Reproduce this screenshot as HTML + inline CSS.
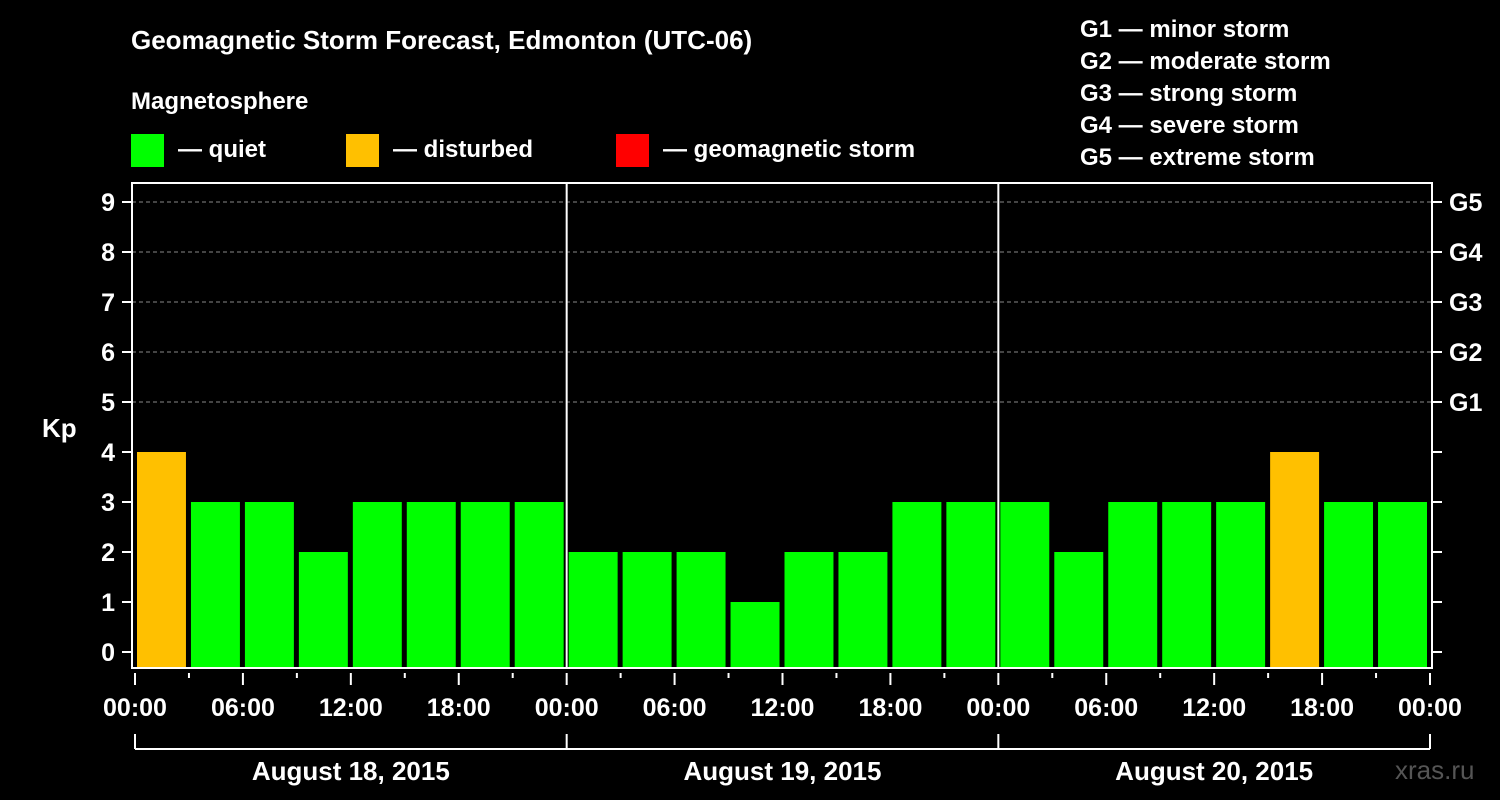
<!DOCTYPE html>
<html><head><meta charset="utf-8"><style>
html,body{margin:0;padding:0;background:#000;width:1500px;height:800px;overflow:hidden}
svg{display:block;font-family:"Liberation Sans",Arial,sans-serif;font-weight:bold}
</style></head><body>
<svg id="c" width="1500" height="800" xmlns="http://www.w3.org/2000/svg">
<text x="131" y="49" fill="#fff" font-size="26">Geomagnetic Storm Forecast, Edmonton (UTC-06)</text>
<text x="131" y="109" fill="#fff" font-size="24">Magnetosphere</text>
<g><rect x="131" y="134" width="33" height="33" fill="#00ff00"/><text x="178" y="157" fill="#fff" font-size="24">— quiet</text></g>
<g><rect x="346" y="134" width="33" height="33" fill="#ffc000"/><text x="393" y="157" fill="#fff" font-size="24">— disturbed</text></g>
<g><rect x="616" y="134" width="33" height="33" fill="#ff0000"/><text x="663" y="157" fill="#fff" font-size="24">— geomagnetic storm</text></g>
<g fill="#fff" font-size="24">
<text x="1080" y="37">G1 — minor storm</text>
<text x="1080" y="69">G2 — moderate storm</text>
<text x="1080" y="101">G3 — strong storm</text>
<text x="1080" y="133">G4 — severe storm</text>
<text x="1080" y="165">G5 — extreme storm</text>
</g>
<text x="42" y="437" fill="#fff" font-size="26">Kp</text>
<text x="1395" y="779" fill="#555" font-size="26" font-weight="normal">xras.ru</text>
<g id="plot"></g>
</svg>
<script>
const kpValues=[4,3,3,2,3,3,3,3, 2,2,2,1,2,2,3,3, 3,2,3,3,3,4,3,3];
const dayLabels=["August 18, 2015","August 19, 2015","August 20, 2015"];
const hourLabels=["00:00","06:00","12:00","18:00"];
const gLabels=["G1","G2","G3","G4","G5"];
const NS="http://www.w3.org/2000/svg";
const g=document.getElementById('plot');
const X0=135,X1=1430,L=132,R=1432,T=183,B=668;
const slot=(X1-X0)/kpValues.length;
const y=v=>652-50*v;
const x=i=>X0+i*slot;
function mk(t,a,txt){const e=document.createElementNS(NS,t);for(const k in a)e.setAttribute(k,a[k]);if(txt!==undefined)e.textContent=txt;g.appendChild(e);return e;}
for(let v=5;v<=9;v++){
 const e=mk('line',{x1:L,x2:R,y1:y(v),y2:y(v),stroke:'#888','stroke-width':1,'stroke-dasharray':'4,3'});
 
 
}
kpValues.forEach((v,i)=>{
 const c=v>=5?'#ff0000':v>=4?'#ffc000':'#00ff00';
 const e=mk('rect',{x:x(i)+2,y:y(v),width:slot-5,height:B-y(v),fill:c});
 
 
});
for(let d=1;d<dayLabels.length;d++){
 const e=mk('line',{x1:x(d*8),x2:x(d*8),y1:T,y2:B,stroke:'#fff','stroke-width':2});
 
 
}
const fr=mk('rect',{x:L,y:T,width:R-L,height:B-T,fill:'none',stroke:'#fff','stroke-width':2});


for(let v=0;v<=9;v++){
 mk('line',{x1:122,x2:L,y1:y(v),y2:y(v),stroke:'#fff','stroke-width':2});
 mk('line',{x1:R,x2:1442,y1:y(v),y2:y(v),stroke:'#fff','stroke-width':2});
 const t=mk('text',{x:115,y:y(v)+9,fill:'#fff','font-size':25,'text-anchor':'end'},String(v));
 
 
}
gLabels.forEach((s,i)=>{
 const t=mk('text',{x:1449,y:y(5+i)+9,fill:'#fff','font-size':25},s);
 
 
});
for(let i=0;i<=kpValues.length;i++){
 const major=i%2===0;
 mk('line',{x1:x(i),x2:x(i),y1:673,y2:major?685:678,stroke:'#fff','stroke-width':2});
 if(major){
  const t=mk('text',{x:x(i),y:716,fill:'#fff','font-size':25,'text-anchor':'middle'},hourLabels[(i/2)%4]);
  
  
 }
}
mk('line',{x1:x(0),x2:x(kpValues.length),y1:749,y2:749,stroke:'#fff','stroke-width':2});
for(let d=0;d<=dayLabels.length;d++) mk('line',{x1:x(d*8),x2:x(d*8),y1:734,y2:749,stroke:'#fff','stroke-width':2});
dayLabels.forEach((s,d)=>{
 const t=mk('text',{x:x(d*8+4),y:780,fill:'#fff','font-size':26,'text-anchor':'middle'},s);
 
 
});
</script>
</body></html>
